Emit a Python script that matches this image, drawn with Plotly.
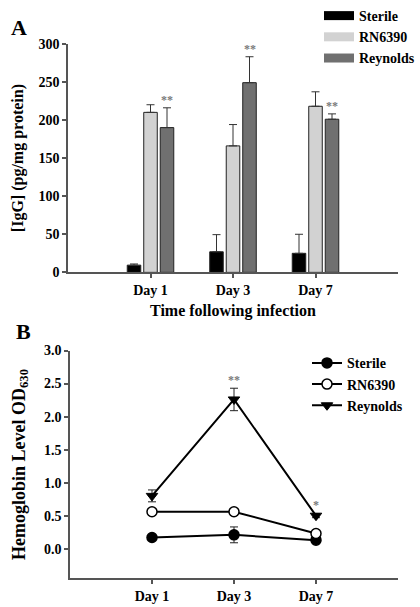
import plotly.graph_objects as go

# ---------------- data ----------------
days = ["Day 1", "Day 3", "Day 7"]
series = ["Sterile", "RN6390", "Reynolds"]

# Panel A: IgG (pg/mg protein)
igg_sterile = [9.5, 27, 25]
igg_sterile_err = [1.5, 22.5, 25]
igg_rn6390 = [210, 166, 218]
igg_rn6390_err = [10, 28, 19]
igg_reynolds = [190, 249, 201]
igg_reynolds_err = [26, 34, 7]
igg_sig = ["**", "**", "**"]          # significance marks over Reynolds bars

# Panel B: Hemoglobin level OD630
hb_sterile = [0.17, 0.21, 0.13]
hb_sterile_err = [0.02, 0.12, 0.02]
hb_rn6390 = [0.56, 0.56, 0.23]
hb_rn6390_err = [0.05, 0.05, 0.02]
hb_reynolds = [0.80, 2.26, 0.50]
hb_reynolds_err = [0.09, 0.17, 0.03]
hb_sig = ["", "**", "*"]

yticks_a = [0, 50, 100, 150, 200, 250, 300]
yticks_b = [0.0, 0.5, 1.0, 1.5, 2.0, 2.5, 3.0]
yticklabels_b = ["0.0", "0.5", "1.0", "1.5", "2.0", "2.5", "3.0"]

# ---------------- style ----------------
FONT = "Liberation Serif"
bar_colors = ["#000000", "#d2d2d2", "#707070"]
AX = "#555555"
W, H = 420, 607

xpos = list(range(len(days)))

fig = go.Figure()

# ---- Panel A bars ----
a_vals = [igg_sterile, igg_rn6390, igg_reynolds]
a_errs = [igg_sterile_err, igg_rn6390_err, igg_reynolds_err]
for name, vals, errs, col in zip(series, a_vals, a_errs, bar_colors):
    fig.add_trace(go.Bar(
        x=xpos, y=vals, name=name, marker=dict(color=col, line=dict(color="#222", width=1)),
        error_y=dict(type="data", array=errs, arrayminus=[0]*len(errs), symmetric=False,
                     color="#333", thickness=1, width=4),
        xaxis="x", yaxis="y", showlegend=False, offsetgroup=name,
    ))
    # legend swatch (wide rectangle)
    fig.add_trace(go.Scatter(
        x=[None], y=[None], mode="lines", name=name,
        line=dict(color=col, width=9),
        xaxis="x", yaxis="y", legend="legend",
    ))

# significance marks over Reynolds bars (group slot offset +0.2)
slot = 0.2
for i, s in enumerate(igg_sig):
    if s:
        fig.add_annotation(x=xpos[i] + slot, y=igg_reynolds[i] + igg_reynolds_err[i] + 10,
                           text=s, showarrow=False, xref="x", yref="y",
                           font=dict(size=12, color="#7a7a7a", family=FONT))

# ---- Panel B lines ----
b_vals = [hb_sterile, hb_rn6390, hb_reynolds]
b_errs = [hb_sterile_err, hb_rn6390_err, hb_reynolds_err]
b_markers = [dict(symbol="circle", color="#000", size=10, line=dict(color="#000", width=1.5)),
             dict(symbol="circle", color="#fff", size=10, line=dict(color="#000", width=1.5)),
             dict(symbol="triangle-down", color="#000", size=10, line=dict(color="#000", width=1))]
for name, vals, errs, mk in zip(series, b_vals, b_errs, b_markers):
    fig.add_trace(go.Scatter(
        x=xpos, y=vals, name=name, mode="lines+markers",
        line=dict(color="#000", width=2), marker=mk,
        error_y=dict(type="data", array=errs, color="#222", thickness=1, width=4),
        xaxis="x2", yaxis="y2", legend="legend2",
    ))
for i, s in enumerate(hb_sig):
    if s:
        fig.add_annotation(x=xpos[i], y=hb_reynolds[i] + hb_reynolds_err[i] + 0.13,
                           text=s, showarrow=False, xref="x2", yref="y2",
                           font=dict(size=12, color="#7a7a7a", family=FONT))

# panel letters
fig.add_annotation(text="A", x=19 / W, y=1 - 25 / H, xref="paper", yref="paper",
                   xanchor="center", yanchor="middle",
                   showarrow=False, font=dict(size=22, family=FONT, color="#000", weight="bold"))
fig.add_annotation(text="B", x=23 / W, y=1 - 330 / H, xref="paper", yref="paper",
                   xanchor="center", yanchor="middle",
                   showarrow=False, font=dict(size=22, family=FONT, color="#000", weight="bold"))

axis_common = dict(showline=True, linecolor=AX, linewidth=1.5, ticks="outside",
                   ticklen=4, tickcolor=AX, tickwidth=1.5, showgrid=False, zeroline=False,
                   automargin=False,
                   tickfont=dict(size=14, family=FONT, color="#000", weight="bold"))

fig.update_layout(
    width=W, height=H, margin=dict(l=0, r=0, t=0, b=0),
    paper_bgcolor="white", plot_bgcolor="white",
    font=dict(family=FONT, color="#000", weight="bold"),
    barmode="group", bargap=0.4, bargroupgap=0.18,
    xaxis=dict(domain=[68 / W, 398 / W], range=[-1, 3], anchor="y",
               tickvals=xpos, ticktext=days,
               title=dict(text="Time following infection", font=dict(size=16, family=FONT, weight="bold"), standoff=8),
               **axis_common),
    yaxis=dict(domain=[1 - 270.7 / H, 1 - 41 / H], range=[0, 300], anchor="x",
               tickvals=yticks_a,
               title=dict(text="[IgG] (pg/mg protein)", font=dict(size=16, family=FONT, weight="bold"), standoff=11),
               **axis_common),
    xaxis2=dict(domain=[70 / W, 398 / W], range=[-1, 3], anchor="y2",
                tickvals=xpos, ticktext=days, **axis_common),
    yaxis2=dict(domain=[1 - 578.3 / H, 1 - 349.3 / H], range=[-0.45, 3.0], anchor="x2",
                tickvals=yticks_b, ticktext=yticklabels_b,
                title=dict(text="Hemoglobin Level OD<sub>630</sub>", font=dict(size=18, family=FONT, weight="bold"), standoff=14),
                **axis_common),
    legend=dict(x=1, y=1 + 3 / H, xanchor="right", yanchor="top",
                font=dict(size=14, family=FONT, weight="bold"), bgcolor="rgba(0,0,0,0)",
                itemwidth=30, tracegroupgap=0),
    legend2=dict(x=408 / W, y=1 - 346 / H, xanchor="right", yanchor="top",
                 font=dict(size=14, family=FONT, weight="bold"), bgcolor="rgba(0,0,0,0)",
                 itemwidth=30, tracegroupgap=0),
)

fig.write_html("out.html", config={"displayModeBar": False},
               post_script="document.body.style.margin='0px';document.body.style.overflow='hidden';")
